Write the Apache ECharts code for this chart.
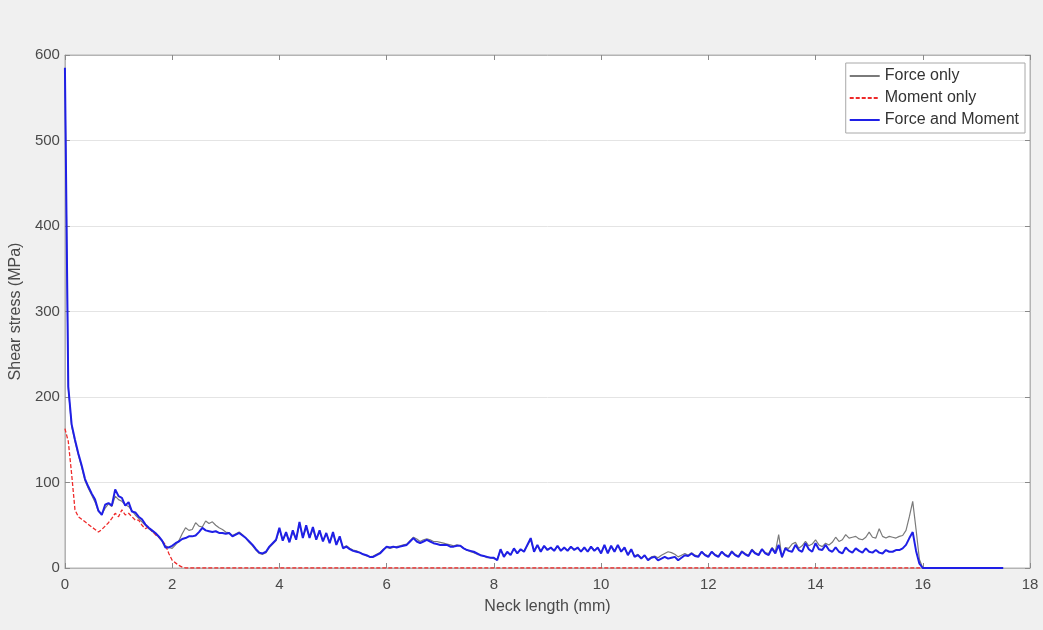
<!DOCTYPE html>
<html>
<head>
<meta charset="utf-8">
<script src="https://cdn.jsdelivr.net/npm/echarts@6/dist/echarts.min.js"></script>
<style>
  html, body { margin: 0; padding: 0; background: #f0f0f0; }
  #chart { width: 1043px; height: 630px; }
</style>
</head>
<body>
<div id="chart"></div>
<script>
// Stations along the neck are 1/16 mm apart; one row below = 1 mm.
const SAMPLE_STEP = 0.0625;

const seriesNames = ['Force only', 'Moment only', 'Force and Moment'];
const xTickValues = [0, 2, 4, 6, 8, 10, 12, 14, 16, 18];
const yTickValues = [0, 100, 200, 300, 400, 500, 600];

// Shear stress (MPa), load case: force only
const forceOnly = [
  580, 210, 166, 148, 132, 118, 102, 93, 85, 77, 66, 63, 70, 75, 72, 84,
  80, 78, 74, 72, 67, 62, 58, 54, 50, 46, 43, 40, 36, 31, 26, 24,
  23, 27, 32, 40, 47, 44, 45, 53, 49, 48, 55, 52, 54, 50, 47, 45,
  42, 41, 38, 40, 42, 39, 35, 30, 26, 21, 17, 16, 18, 24, 28, 32,
  45, 33, 40, 31, 42, 34, 51, 36, 47, 36, 45, 34, 42, 32, 40, 30,
  40, 28, 35, 24, 26, 23, 21, 20, 18, 16, 14, 13, 14, 16, 18, 22,
  24, 23, 24, 25, 26, 27, 28, 32, 36, 34, 31, 33, 34, 33, 31, 31,
  30, 29, 28, 27, 26, 27, 26, 23, 21, 19, 18, 16, 15, 14, 12, 12,
  11, 10, 21, 14, 18, 16, 22, 18, 21, 20, 26, 33, 20, 26, 20, 25,
  22, 23, 21, 25, 21, 23, 21, 24, 22, 23, 20, 23, 20, 24, 21, 23,
  18, 26, 18, 25, 20, 26, 20, 23, 16, 21, 14, 16, 12, 14, 10, 13,
  14, 12, 15, 17, 19, 18, 16, 13, 15, 17, 15, 18, 15, 14, 19, 16,
  14, 19, 16, 14, 19, 16, 14, 20, 16, 14, 20, 17, 15, 22, 18, 16,
  22, 18, 17, 24, 19, 39, 12, 24, 23, 28, 30, 23, 26, 31, 26, 28,
  33, 27, 25, 29, 27, 30, 36, 31, 33, 39, 35, 36, 37, 34, 33, 36,
  42, 36, 35, 46, 37, 35, 37, 36, 35, 37, 38, 44, 60, 78, 45, 10,
  0, 0, 0, 0, 0, 0, 0, 0, 0, 0, 0, 0, 0, 0, 0, 0,
  0, 0, 0, 0, 0, 0, 0, 0, 0
];

// Shear stress (MPa), load case: moment only
const momentOnly = [
  163, 148, 110, 68, 60, 57, 54, 51, 48, 45, 42, 45, 49, 53, 58, 64,
  60, 68, 62, 64, 60, 56, 56, 50, 46, 48, 43, 39, 36, 32, 27, 17,
  9, 6, 3, 1, 0, 0, 0, 0, 0, 0, 0, 0, 0, 0, 0, 0,
  0, 0, 0, 0, 0, 0, 0, 0, 0, 0, 0, 0, 0, 0, 0, 0,
  0, 0, 0, 0, 0, 0, 0, 0, 0, 0, 0, 0, 0, 0, 0, 0,
  0, 0, 0, 0, 0, 0, 0, 0, 0, 0, 0, 0, 0, 0, 0, 0,
  0, 0, 0, 0, 0, 0, 0, 0, 0, 0, 0, 0, 0, 0, 0, 0,
  0, 0, 0, 0, 0, 0, 0, 0, 0, 0, 0, 0, 0, 0, 0, 0,
  0, 0, 0, 0, 0, 0, 0, 0, 0, 0, 0, 0, 0, 0, 0, 0,
  0, 0, 0, 0, 0, 0, 0, 0, 0, 0, 0, 0, 0, 0, 0, 0,
  0, 0, 0, 0, 0, 0, 0, 0, 0, 0, 0, 0, 0, 0, 0, 0,
  0, 0, 0, 0, 0, 0, 0, 0, 0, 0, 0, 0, 0, 0, 0, 0,
  0, 0, 0, 0, 0, 0, 0, 0, 0, 0, 0, 0, 0, 0, 0, 0,
  0, 0, 0, 0, 0, 0, 0, 0, 0, 0, 0, 0, 0, 0, 0, 0,
  0, 0, 0, 0, 0, 0, 0, 0, 0, 0, 0, 0, 0, 0, 0, 0,
  0, 0, 0, 0, 0, 0, 0, 0, 0, 0, 0, 0, 0, 0, 0, 0,
  0
];

// Shear stress (MPa), load case: force and moment combined
const forceAndMoment = [
  585, 212, 168, 150, 134, 120, 104, 95, 87, 80, 67, 62, 74, 76, 73, 92,
  84, 82, 73, 77, 66, 65, 60, 57, 51, 47, 44, 41, 37, 32, 24, 24,
  26, 29, 31, 34, 35, 37, 37, 38, 42, 47, 44, 43, 42, 43, 41, 41,
  40, 41, 37, 39, 41, 38, 35, 31, 27, 22, 18, 17, 19, 25, 29, 33,
  47, 32, 42, 30, 44, 33, 54, 35, 50, 35, 48, 33, 44, 31, 41, 29,
  42, 27, 37, 23, 25, 22, 20, 19, 18, 16, 15, 13, 13, 15, 17, 21,
  25, 24, 25, 24, 25, 26, 27, 31, 35, 31, 29, 31, 33, 31, 29, 28,
  27, 27, 27, 25, 25, 26, 26, 23, 21, 20, 19, 17, 15, 14, 13, 12,
  12, 9, 22, 13, 19, 15, 23, 17, 22, 19, 27, 35, 19, 27, 19, 26,
  21, 24, 20, 26, 20, 24, 20, 25, 21, 24, 19, 24, 19, 25, 20, 24,
  17, 27, 17, 26, 19, 27, 19, 24, 15, 22, 13, 15, 11, 15, 9, 12,
  13, 9, 11, 13, 11, 12, 13, 9, 12, 15, 14, 17, 14, 13, 19, 15,
  13, 19, 15, 13, 19, 15, 13, 19, 15, 13, 19, 16, 14, 21, 17, 15,
  22, 17, 15, 23, 17, 27, 13, 23, 20, 19, 27, 21, 19, 29, 22, 19,
  29, 22, 21, 27, 21, 19, 24, 19, 17, 24, 20, 18, 23, 20, 18, 23,
  19, 18, 21, 18, 17, 21, 19, 19, 21, 21, 23, 27, 35, 42, 20, 5,
  0, 0, 0, 0, 0, 0, 0, 0, 0, 0, 0, 0, 0, 0, 0, 0,
  0, 0, 0, 0, 0, 0, 0, 0, 0
];

// Pair each stress value with its position along the neck (mm).
function alongNeck(values) {
  return values.map((v, i) => [+(i * SAMPLE_STEP).toFixed(4), v]);
}

const textColor = '#4a4a4a';
const frameColor = '#b4b4b4';
const fontFamily = 'Liberation Sans, Arial, sans-serif';

const xMin = xTickValues[0];
const xMax = xTickValues[xTickValues.length - 1];
const yMin = yTickValues[0];
const yMax = yTickValues[yTickValues.length - 1];

const chart = echarts.init(document.getElementById('chart'), null, { renderer: 'canvas' });

const tickStyle = { show: true, inside: true, length: 5, lineStyle: { color: '#8a8a8a', width: 1 } };
const frameLine = { show: true, onZero: false, lineStyle: { color: frameColor } };

chart.setOption({
  animation: false,
  backgroundColor: '#f0f0f0',
  textStyle: { fontFamily: fontFamily },
  grid: {
    left: 64, right: 13, top: 55, bottom: 62,
    show: true, backgroundColor: '#ffffff',
    borderColor: frameColor, borderWidth: 1
  },
  legend: {
    data: seriesNames,
    orient: 'vertical',
    right: 18, top: 63,
    itemWidth: 30, itemHeight: 14, itemGap: 6,
    padding: [5, 6, 5, 3],
    backgroundColor: '#ffffff',
    borderColor: '#a8a8a8', borderWidth: 1,
    itemStyle: { opacity: 0 },
    textStyle: { fontSize: 16, color: '#333', fontFamily: fontFamily }
  },
  xAxis: [{
    type: 'value', min: xMin, max: xMax, interval: 2,
    name: 'Neck length (mm)', nameLocation: 'middle', nameGap: 31,
    nameTextStyle: { fontSize: 16, color: textColor },
    axisLine: frameLine,
    axisTick: tickStyle,
    axisLabel: { fontSize: 15, color: textColor, margin: 9 },
    splitLine: { show: false }
  }, {
    type: 'value', position: 'top', min: xMin, max: xMax, interval: 2,
    axisLine: frameLine,
    axisTick: tickStyle, axisLabel: { show: false }, splitLine: { show: false }
  }],
  yAxis: [{
    type: 'value', min: yMin, max: yMax, interval: 100,
    name: 'Shear stress (MPa)', nameLocation: 'middle', nameGap: 35,
    nameTextStyle: { fontSize: 16, color: textColor },
    axisLine: frameLine,
    axisTick: tickStyle,
    axisLabel: { fontSize: 15, color: textColor, margin: 5 },
    splitLine: { show: true, lineStyle: { color: '#e4e4e4', width: 1 } }
  }, {
    type: 'value', position: 'right', min: yMin, max: yMax, interval: 100,
    axisLine: frameLine,
    axisTick: tickStyle, axisLabel: { show: false }, splitLine: { show: false }
  }],
  series: [{
    name: seriesNames[0], type: 'line', symbol: 'none',
    data: alongNeck(forceOnly),
    lineStyle: { color: '#7a7a7a', width: 1.2 },
    itemStyle: { color: '#7a7a7a' }
  }, {
    name: seriesNames[1], type: 'line', symbol: 'none',
    data: alongNeck(momentOnly),
    lineStyle: { color: '#ee2a2a', width: 1.3, type: [4, 2] },
    itemStyle: { color: '#ee2a2a' }
  }, {
    name: seriesNames[2], type: 'line', symbol: 'none',
    data: alongNeck(forceAndMoment),
    lineStyle: { color: '#1f1fe6', width: 2 },
    itemStyle: { color: '#1f1fe6' }
  }]
});
</script>
</body>
</html>
